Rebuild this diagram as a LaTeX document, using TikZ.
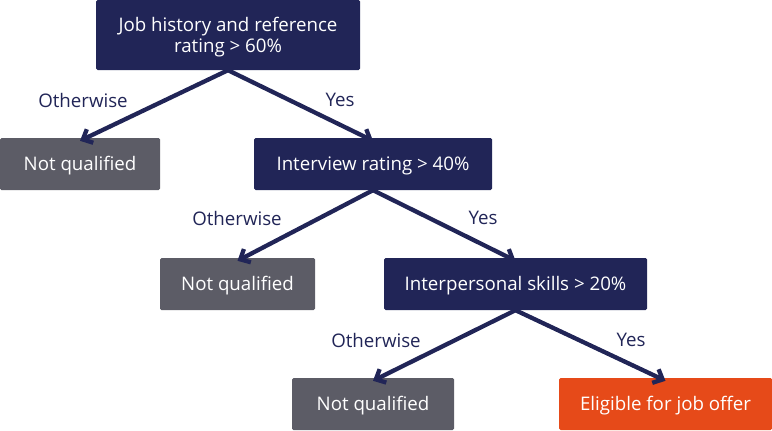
\documentclass[tikz,border=0pt]{standalone}
\usepackage{fontspec}
\setmainfont{Open Sans}
\usetikzlibrary{arrows.meta}
\definecolor{navy}{HTML}{212557}
\definecolor{slate}{HTML}{5C5C66}
\definecolor{flame}{HTML}{E64A19}
\begin{document}
\begin{tikzpicture}[x=1pt,y=-1pt,
  box/.style={draw=none,rounded corners=1.5pt,text=white,font=\fontsize{18.7}{21}\selectfont,align=center,inner sep=0pt},
  single/.style={text height=14pt,text depth=0.5pt},
  cond/.style={box,fill=navy},
  nq/.style={box,fill=slate,single},
  ok/.style={box,fill=flame,single},
  edge/.style={draw=navy,line width=4.3pt,line cap=round,-{Straight Barb[length=8pt,width=15pt,line width=4.3pt]}},
  lbl/.style={text=navy,font=\fontsize{18.7}{21}\selectfont}]
\useasboundingbox (0,0) rectangle (772,431);
\node[cond,minimum width=264pt,minimum height=70pt] (root) at (228,35) {\rule{0pt}{18.2pt}Job history and reference\\rating > 60\%};
\node[nq,minimum width=160pt,minimum height=52pt] (nq1) at (80,164) {Not qualified};
\node[cond,single,minimum width=238pt,minimum height=52pt] (int) at (373,164) {Interview rating > 40\%};
\node[nq,minimum width=155pt,minimum height=52pt] (nq2) at (237.5,284) {Not qualified};
\node[cond,single,minimum width=263pt,minimum height=52pt] (ips) at (515.5,284) {Interpersonal skills > 20\%};
\node[nq,minimum width=162pt,minimum height=52pt] (nq3) at (373,404) {Not qualified};
\node[ok,minimum width=213pt,minimum height=52pt] (elig) at (665.5,404) {Eligible for job offer};
\draw[edge] (root.south) -- ([yshift=-3pt]nq1.north);
\draw[edge] (root.south) -- ([yshift=-3pt]int.north);
\draw[edge] (int.south) -- ([yshift=-3pt]nq2.north);
\draw[edge] (int.south) -- ([yshift=-3pt]ips.north);
\draw[edge] (ips.south) -- ([yshift=-3pt]nq3.north);
\draw[edge] (ips.south) -- ([yshift=-3pt]elig.north);
\node[lbl] (l1) at (83,100) {Otherwise};
\node[lbl] (l2) at (340,100) {Yes};
\node[lbl] (l3) at (237,218) {Otherwise};
\node[lbl] (l4) at (483,218) {Yes};
\node[lbl] (l5) at (376,340) {Otherwise};
\node[lbl] (l6) at (631,340) {Yes};
\end{tikzpicture}
\end{document}
